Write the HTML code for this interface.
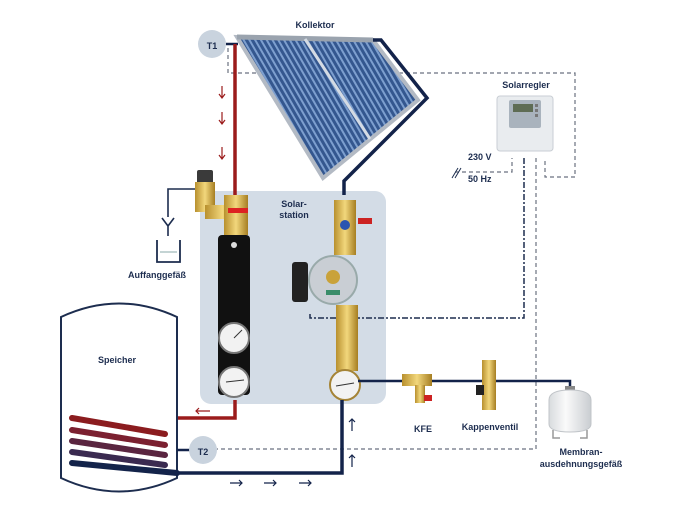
<!DOCTYPE html>
<html><head><meta charset="utf-8"><style>
html,body{margin:0;padding:0;background:#fff;}
svg{display:block;font-family:"Liberation Sans",sans-serif;}
.t{font-size:9px;font-weight:bold;fill:#1d2d4f;}
</style></head><body>
<svg width="690" height="513" viewBox="0 0 690 513">
<defs>
<pattern id="tubes" width="5" height="10" patternUnits="userSpaceOnUse" patternTransform="rotate(-30)">
<rect width="5" height="10" fill="#34578f"/><rect width="2" height="10" fill="#7d9fcf"/>
</pattern>
<linearGradient id="brass" x1="0" x2="1"><stop offset="0" stop-color="#b8902e"/><stop offset="0.5" stop-color="#f2d77c"/><stop offset="1" stop-color="#a67e22"/></linearGradient>
<linearGradient id="memb" x1="0" x2="1"><stop offset="0" stop-color="#d8dbde"/><stop offset="0.4" stop-color="#fafafa"/><stop offset="1" stop-color="#c9cdd1"/></linearGradient>
</defs>

<!-- station box -->
<rect x="200" y="191" width="186" height="213" rx="11" fill="#d3dce6"/>
<text class="t" x="294" y="207" text-anchor="middle">Solar-</text>
<text class="t" x="294" y="218" text-anchor="middle">station</text>

<!-- dashed sensor lines -->
<g fill="none" stroke="#6b7280" stroke-width="1.2" stroke-dasharray="4,3">
<path d="M228 48 V73 H575 V177 H545 V158"/>
<path d="M536 158 V449 H217"/>
<path d="M455 172 H512 V158"/>
</g>
<path d="M524 158 V318 H310 V312" fill="none" stroke="#1d2d4f" stroke-width="1.5" stroke-dasharray="6,2,2,2"/>
<text class="t" x="468" y="160" font-size="8">230 V</text>
<text class="t" x="468" y="182" font-size="8">50 Hz</text>
<path d="M452 178 l6 -10 M455 178 l6 -10" stroke="#1d2d4f" stroke-width="1"/>

<!-- controller -->
<text class="t" x="526" y="88" text-anchor="middle">Solarregler</text>
<rect x="497" y="96" width="56" height="55" rx="3" fill="#e9ecef" stroke="#c9ced4"/>
<rect x="509" y="100" width="32" height="28" rx="2" fill="#a9b3bd"/>
<rect x="513" y="104" width="20" height="8" fill="#5e6c54"/>
<rect x="535" y="104" width="3" height="3" fill="#777"/><rect x="535" y="109" width="3" height="3" fill="#777"/><rect x="535" y="114" width="3" height="3" fill="#777"/>

<!-- collector -->
<text class="t" x="315" y="28" text-anchor="middle">Kollektor</text>
<polygon points="237,37 373,40 418,100 323,178" fill="url(#tubes)" stroke="#b3bac4" stroke-width="4"/>
<line x1="237" y1="37" x2="373" y2="40" stroke="#9aa3ae" stroke-width="5"/>
<line x1="305" y1="39" x2="370" y2="139" stroke="#d4dbe4" stroke-width="3"/>
<path d="M373 40 H381 L427 98 L344 181 V195" fill="none" stroke="#13234a" stroke-width="3.5"/>

<!-- T1 -->
<circle cx="212" cy="44" r="14" fill="#c9d3de"/>
<text class="t" x="212" y="49" text-anchor="middle" font-size="12">T1</text>
<line x1="226" y1="44" x2="238" y2="44" stroke="#13234a" stroke-width="2.5"/>

<!-- red pipe -->
<path d="M235 44 V200" stroke="#9b1b1b" stroke-width="3.5" fill="none"/>
<g stroke="#9b1b1b" stroke-width="1.2" fill="none">
<path d="M222 86 V97 M219 94 l3 4 l3 -4"/>
<path d="M222 112 V123 M219 120 l3 4 l3 -4"/>
<path d="M222 147 V158 M219 155 l3 4 l3 -4"/>
</g>

<!-- relief valve -->
<rect x="197" y="170" width="16" height="14" rx="2" fill="#3a3a3a"/>
<rect x="195" y="182" width="20" height="30" fill="url(#brass)"/>
<rect x="205" y="205" width="35" height="14" fill="url(#brass)"/>
<path d="M195 189 H168 V217" fill="none" stroke="#1d2d4f" stroke-width="1.6"/>
<path d="M162 218 L168 226 L174 218 M168 226 V236" fill="none" stroke="#1d2d4f" stroke-width="1.6"/>
<path d="M157 240 V262 H180 V240" fill="none" stroke="#1d2d4f" stroke-width="1.8"/>
<line x1="160" y1="252" x2="177" y2="252" stroke="#8aa" stroke-width="1"/>
<text class="t" x="157" y="278" text-anchor="middle">Auffanggefäß</text>

<!-- left column -->
<rect x="224" y="195" width="24" height="40" fill="url(#brass)"/>
<rect x="228" y="208" width="20" height="5" fill="#d22"/>
<rect x="218" y="235" width="32" height="160" rx="4" fill="#111"/>
<circle cx="234" cy="245" r="3" fill="#ddd"/>
<circle cx="234" cy="338" r="15" fill="#f2f2f2" stroke="#777" stroke-width="2"/>
<circle cx="234" cy="382" r="15" fill="#f2f2f2" stroke="#777" stroke-width="2"/>
<line x1="234" y1="338" x2="242" y2="330" stroke="#333"/>
<line x1="226" y1="382" x2="244" y2="380" stroke="#333"/>

<!-- right column -->
<rect x="334" y="200" width="22" height="55" fill="url(#brass)"/>
<circle cx="345" cy="225" r="5" fill="#2a55b0"/>
<rect x="358" y="218" width="14" height="6" fill="#c22"/>
<rect x="292" y="262" width="16" height="40" rx="3" fill="#222"/>
<circle cx="333" cy="280" r="24" fill="#c9ced4" stroke="#9aa" stroke-width="2"/>
<circle cx="333" cy="277" r="7" fill="#c9a23a"/>
<rect x="326" y="290" width="14" height="5" fill="#3a8d6a"/>
<rect x="336" y="305" width="22" height="66" fill="url(#brass)"/>
<circle cx="345" cy="385" r="15" fill="#f2f2f2" stroke="#a58436" stroke-width="2"/>
<line x1="336" y1="386" x2="354" y2="383" stroke="#333"/>

<!-- red return -->
<path d="M70 418 H235 V400" fill="none" stroke="#9b1b1b" stroke-width="3.5"/>
<path d="M196 411 H210 M199 408 l-3 3 l3 3" stroke="#9b1b1b" stroke-width="1.2" fill="none"/>

<!-- blue lines -->
<path d="M177 473 H342 V400" fill="none" stroke="#13234a" stroke-width="3.5"/>
<path d="M358 381 H570 V390" fill="none" stroke="#13234a" stroke-width="2.5"/>
<g stroke="#13234a" stroke-width="1.2" fill="none">
<path d="M230 483 H242 M239 480 l3 3 l-3 3"/>
<path d="M264 483 H276 M273 480 l3 3 l-3 3"/>
<path d="M299 483 H311 M308 480 l3 3 l-3 3"/>
<path d="M352 431 V419 M349 422 l3 -3 l3 3"/>
<path d="M352 467 V455 M349 458 l3 -3 l3 3"/>
</g>

<!-- storage tank -->
<path d="M61 317 Q119 290 177 317 V478 Q119 505 61 478 Z" fill="#fff" stroke="#1d2d4f" stroke-width="2"/>
<text class="t" x="117" y="363" text-anchor="middle">Speicher</text>
<g stroke-linecap="round" stroke-width="6" fill="none">
<path d="M72 418 L165 434" stroke="#8b1c1f"/>
<path d="M72 430 L165 445" stroke="#7b2030"/>
<path d="M72 441 L165 455" stroke="#5a2540"/>
<path d="M72 452 L165 465" stroke="#3a2a50"/>
<path d="M72 463 L177 473" stroke="#13234a"/>
</g>

<!-- T2 -->
<line x1="177" y1="450" x2="190" y2="450" stroke="#13234a" stroke-width="2.5"/>
<circle cx="203" cy="450" r="14" fill="#c9d3de"/>
<text class="t" x="203" y="455" text-anchor="middle" font-size="12">T2</text>

<!-- KFE and Kappenventil -->
<rect x="402" y="374" width="30" height="12" fill="url(#brass)"/>
<rect x="415" y="385" width="10" height="18" fill="url(#brass)"/>
<rect x="424" y="395" width="8" height="6" fill="#c22"/>
<text class="t" x="423" y="432" text-anchor="middle">KFE</text>
<rect x="482" y="360" width="14" height="50" fill="url(#brass)"/>
<rect x="476" y="385" width="8" height="10" fill="#222"/>
<text class="t" x="490" y="430" text-anchor="middle">Kappenventil</text>

<!-- membrane tank -->
<rect x="565" y="386" width="10" height="5" fill="#888"/>
<path d="M549 400 Q549 390 570 390 Q591 390 591 400 V424 Q591 432 570 432 Q549 432 549 424 Z" fill="url(#memb)" stroke="#c0c4c8"/>
<path d="M553 430 V438 H560 M587 430 V438 H580" fill="none" stroke="#999" stroke-width="1.5"/>
<text class="t" x="581" y="455" text-anchor="middle">Membran-</text>
<text class="t" x="581" y="467" text-anchor="middle">ausdehnungsgefäß</text>
</svg>
</body></html>
